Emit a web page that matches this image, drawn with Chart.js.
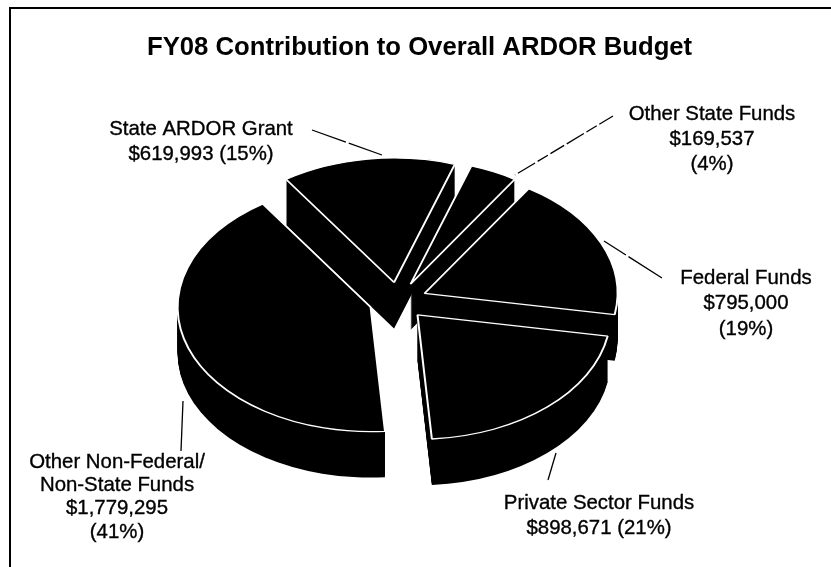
<!DOCTYPE html>
<html><head><meta charset="utf-8">
<script src="https://cdn.jsdelivr.net/npm/chart.js@4"></script>
<style>html,body{margin:0;padding:0;background:#fff}#w{width:831px;height:567px}</style>
</head><body><div id="w"><canvas id="c" width="831" height="567"></canvas></div>
<script>
const categories=["State ARDOR Grant","Other State Funds","Federal Funds","Private Sector Funds","Other Non-Federal/Non-State Funds"];
const values=[619993,169537,795000,898671,1779295];
const titleText="FY08 Contribution to Overall ARDOR Budget";
const labelLines=[
 ["State ARDOR Grant","$619,993 (15%)"],
 ["Other State Funds","$169,537","(4%)"],
 ["Federal Funds","$795,000","(19%)"],
 ["Private Sector Funds","$898,671 (21%)"],
 ["Other Non-Federal/","Non-State Funds","$1,779,295","(41%)"]];
const labelAt=[[201,129],[712,114],[746,278],[599,503],[117,462]];
const lineGap=[25,25,25.5,25,23.3];
const leaders=[[[312,130],[382,155]],[[613,116],[515,175]],[[604,241],[662,278]],[[556,453],[548,480]],[[183,401],[181,451]]];
const leaderDash=[[36,3,60],[16,3,12,3,20,3],[26,3,60],[],[]];
const CX=398,CY=301,K=0.645,DEPTH=46,EXPLODE=29,R=193;
const pie3d={id:'pie3d',
 beforeDatasetDraw(chart){
  const ctx=chart.ctx,arcs=chart.getDatasetMeta(0).data;
  const place=(el,dy)=>{const m=(el.startAngle+el.endAngle)/2;
    ctx.translate(CX,CY+dy);ctx.scale(1,K);
    ctx.translate(-el.x+Math.cos(m)*EXPLODE,-el.y+Math.sin(m)*EXPLODE);};
  for(let d=DEPTH;d>=1;d-=1){arcs.forEach(el=>{
    const s=el.options;
    el.options=Object.assign(Object.create(s),{backgroundColor:'#000',borderColor:'#000',borderWidth:0,offset:0});
    ctx.save();place(el,d);el.draw(ctx);ctx.restore();
    el.options=s;});}
  arcs.forEach(el=>{const s=el.options;
    el.options=Object.assign(Object.create(s),{offset:0});
    ctx.save();place(el,0);el.draw(ctx);ctx.restore();el.options=s;});
  return false;
 },
 afterDraw(chart){
  const ctx=chart.ctx;ctx.save();
  ctx.strokeStyle='#000';ctx.lineWidth=2;
  ctx.beginPath();ctx.moveTo(10,567);ctx.lineTo(10,8);ctx.lineTo(831,8);ctx.stroke();
  ctx.lineWidth=1.3;
  leaders.forEach((l,i)=>{ctx.setLineDash(leaderDash[i]);ctx.beginPath();ctx.moveTo(l[0][0],l[0][1]);ctx.lineTo(l[1][0],l[1][1]);ctx.stroke();});
  ctx.setLineDash([]);
  ctx.fillStyle='#000';ctx.strokeStyle='#000';ctx.lineWidth=0.35;
  ctx.font='20.4px "Liberation Sans"';ctx.textAlign='center';ctx.textBaseline='middle';
  labelLines.forEach((ls,i)=>ls.forEach((t,j)=>{const x=labelAt[i][0],y=labelAt[i][1]+j*lineGap[i];ctx.fillText(t,x,y);ctx.strokeText(t,x,y);}));
  ctx.restore();
 }};
new Chart(document.getElementById('c'),{type:'pie',
 data:{labels:categories,datasets:[{data:values,backgroundColor:'#000',borderColor:'#fff',borderWidth:2,radius:R}]},
 options:{responsive:false,animation:false,rotation:-34,
  layout:{padding:{left:147}},
  plugins:{legend:{display:false},tooltip:{enabled:false},
   title:{display:true,text:titleText,align:'start',color:'#000',font:{family:'"Liberation Sans"',size:25.7,weight:'bold'},padding:{top:32,bottom:0}}}},
 plugins:[pie3d]});
</script></body></html>
